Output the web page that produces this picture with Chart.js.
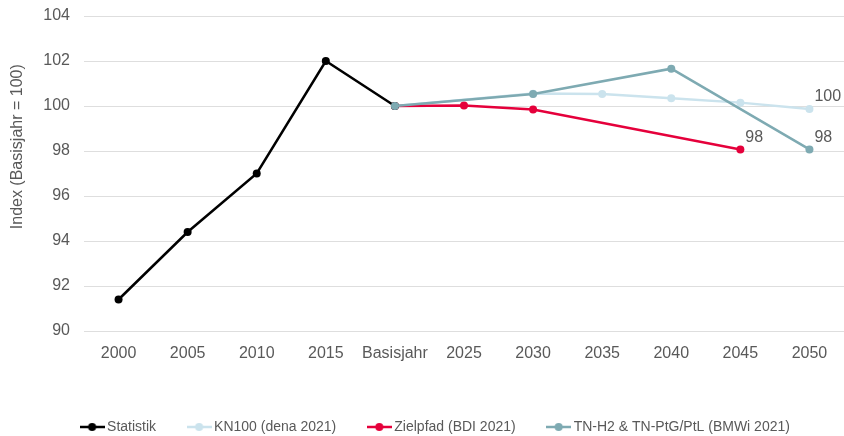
<!DOCTYPE html>
<html>
<head>
<meta charset="utf-8">
<script src="https://cdn.jsdelivr.net/npm/chart.js@4"></script>
<style>
  html, body { margin: 0; padding: 0; background: #fff; overflow: hidden; }
  #wrap { width: 844px; height: 436px; }
</style>
</head>
<body>
<div id="wrap"><canvas id="indexChart"></canvas></div>
<script>
// categories and series
const labels = ["2000", "2005", "2010", "2015", "Basisjahr", "2025", "2030", "2035", "2040", "2045", "2050"];
const statistik = [91.4, 94.4, 97.0, 102.0, 100, null, null, null, null, null, null];
const kn100 = [null, null, null, null, 100, null, 100.55, 100.53, 100.34, 100.15, 99.87];
const zielpfad = [null, null, null, null, 100, 100.02, 99.84, null, null, 98.07, null];
const tnH2 = [null, null, null, null, 100, null, 100.53, null, 101.66, null, 98.07];
const yTicks = [90, 92, 94, 96, 98, 100, 102, 104];

// which points get a value label, per dataset index
const labelled = { 1: [10], 2: [9], 3: [10] };

const gray = "#595959";
const font = "'Liberation Sans', Arial, sans-serif";

// small line + dot image for the legend
function legendMark(color) {
  const c = document.createElement("canvas");
  c.width = 25;
  c.height = 14;
  const g = c.getContext("2d");
  g.strokeStyle = color;
  g.lineWidth = 2.5;
  g.beginPath();
  g.moveTo(0, 7);
  g.lineTo(25, 7);
  g.stroke();
  g.fillStyle = color;
  g.beginPath();
  g.arc(12.5, 7, 4, 0, Math.PI * 2);
  g.fill();
  return c;
}

function series(label, data, color, order) {
  return {
    label: label,
    data: data,
    borderColor: color,
    backgroundColor: color,
    borderWidth: 2.5,
    pointRadius: 4,
    pointHoverRadius: 4,
    pointBorderWidth: 0,
    spanGaps: true,
    tension: 0,
    order: order,
  };
}

// value labels next to the end points
const valueLabels = {
  id: "valueLabels",
  afterDatasetsDraw(chart) {
    const ctx = chart.ctx;
    ctx.save();
    ctx.fillStyle = gray;
    ctx.font = "16px " + font;
    ctx.textAlign = "left";
    ctx.textBaseline = "middle";
    Object.keys(labelled).forEach((di) => {
      const meta = chart.getDatasetMeta(+di);
      labelled[di].forEach((i) => {
        const pt = meta.data[i];
        const v = chart.data.datasets[di].data[i];
        ctx.fillText(String(Math.round(v)), pt.x + 5, pt.y - 12);
      });
    });
    ctx.restore();
  },
};

// y axis title, set a bit above the centre like the reference
const yTitle = {
  id: "yTitle",
  afterDraw(chart) {
    const ctx = chart.ctx;
    const a = chart.chartArea;
    ctx.save();
    ctx.translate(18, a.top + (a.bottom - a.top) * 0.415);
    ctx.rotate(-Math.PI / 2);
    ctx.fillStyle = gray;
    ctx.font = "16px " + font;
    ctx.textAlign = "center";
    ctx.textBaseline = "middle";
    ctx.fillText("Index (Basisjahr = 100)", 0, 0);
    ctx.restore();
  },
};

// nudge the legend row to the right, as in the reference
const legendShift = {
  id: "legendShift",
  afterLayout(chart) {
    chart.legend.left += 15;
    chart.legend.right += 15;
  },
};

const ctx = document.getElementById("indexChart").getContext("2d");

new Chart(ctx, {
  type: "line",
  data: {
    labels: labels,
    datasets: [
      series("Statistik", statistik, "#000000", 1),
      series("KN100 (dena 2021)", kn100, "#cbe3ed", 3),
      series("Zielpfad (BDI 2021)", zielpfad, "#e5003b", 2),
      series("TN-H2 & TN-PtG/PtL (BMWi 2021)", tnH2, "#7eaab2", 0),
    ],
  },
  plugins: [valueLabels, yTitle, legendShift],
  options: {
    responsive: true,
    maintainAspectRatio: false,
    animation: false,
    layout: { autoPadding: false, padding: { top: 16, right: 0, bottom: -8, left: 0 } },
    plugins: {
      tooltip: { enabled: false },
      legend: {
        position: "bottom",
        labels: {
          color: gray,
          font: { family: font, size: 14 },
          usePointStyle: true,
          pointStyleWidth: 16,
          padding: 35,
          generateLabels(chart) {
            return chart.data.datasets.map((ds, i) => ({
              text: ds.label,
              fontColor: gray,
              pointStyle: legendMark(ds.borderColor),
              strokeStyle: ds.borderColor,
              fillStyle: ds.borderColor,
              lineWidth: 0,
              hidden: false,
              datasetIndex: i,
            }));
          },
        },
      },
    },
    scales: {
      x: {
        offset: true,
        grid: { display: false, drawTicks: true, tickLength: 13, tickColor: "transparent" },
        border: { display: false },
        ticks: {
          color: gray,
          font: { family: font, size: 16 },
          padding: 0,
          maxRotation: 0,
          autoSkip: false,
        },
        afterFit(scale) {
          scale.height = 54;
          scale.paddingLeft = 0;
          scale.paddingRight = 0;
        },
      },
      y: {
        min: 90,
        max: 104,
        grid: { color: "#dedede", lineWidth: 1, drawTicks: true, tickLength: 14, tickColor: "transparent" },
        border: { display: false },
        afterBuildTicks(scale) {
          scale.ticks = yTicks.map((v) => ({ value: v }));
        },
        ticks: {
          color: gray,
          font: { family: font, size: 16 },
          padding: 0,
        },
        afterFit(scale) {
          scale.width = 84;
        },
      },
    },
  },
});
</script>
</body>
</html>
